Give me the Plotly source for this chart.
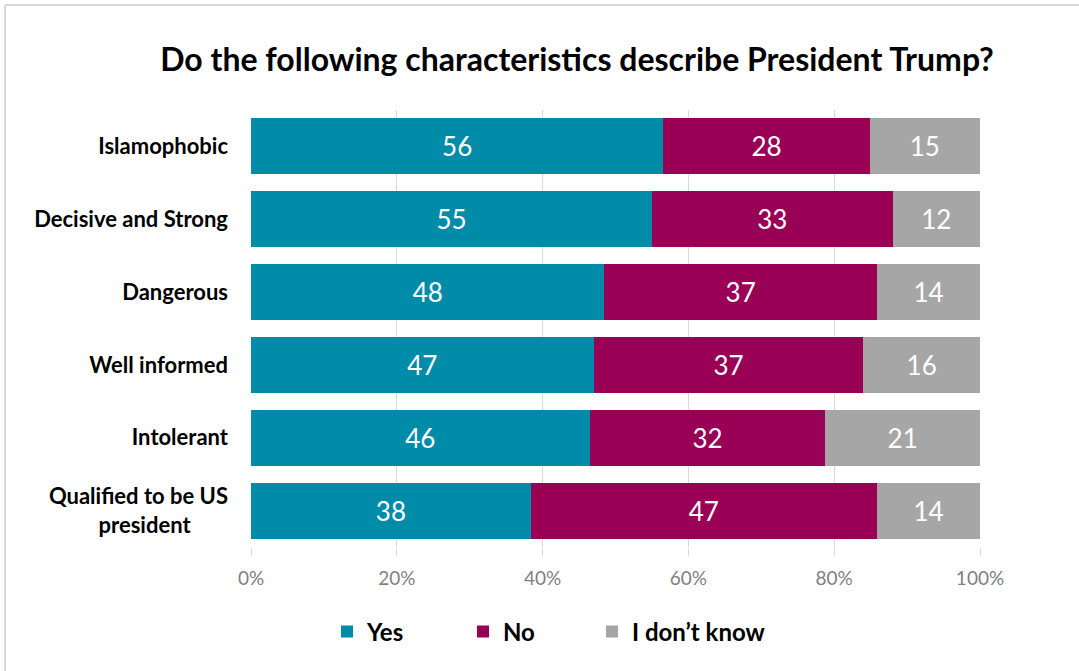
import plotly.graph_objects as go

categories = ["Islamophobic", "Decisive and Strong", "Dangerous", "Well informed",
              "Intolerant", "Qualified to be US<br>president"]
yes_vals = [56, 55, 48, 47, 46, 38]
no_vals = [28, 33, 37, 37, 32, 47]
dk_vals = [15, 12, 14, 16, 21, 14]
series_names = ["Yes", "No", "I don\u2019t know"]
colors = ["#008BA8", "#990055", "#A6A6A6"]
tick_vals = [0, 20, 40, 60, 80, 100]
tick_text = ["0%", "20%", "40%", "60%", "80%", "100%"]

FONT = "Lato, 'Open Sans', sans-serif"

L, R, T, B = 251, 99, 110, 124
W, H = 1079, 671
pw, ph = W - L - R, H - T - B

def px(x):
    return (x - L) / pw

def py(y):
    return (H - B - y) / ph

legend_ids = ["legend", "legend2", "legend3"]
legend_x = [327, 463, 592]

# category labels as shown (second line of the last one centred under the first)
cat_labels = []
for c in categories:
    lines = c.split("<br>")
    if len(lines) > 1:
        lines[1] = lines[1] + "\u00a0" * 7
    cat_labels.append("<br>".join("<b>" + ln + "</b>" for ln in lines))

fig = go.Figure()
for name, vals, col, lid in zip(series_names, [yes_vals, no_vals, dk_vals], colors, legend_ids):
    fig.add_trace(go.Bar(
        y=categories, x=vals, name="<b>" + name + "</b>", orientation="h",
        marker=dict(color=col, line=dict(width=0)),
        text=[str(v) for v in vals], textposition="inside",
        insidetextanchor="middle", textangle=0,
        textfont=dict(color="white", size=26, family=FONT),
        hoverinfo="skip", legend=lid,
    ))

leg_common = dict(orientation="h", xanchor="left", y=py(632), yanchor="middle",
                  font=dict(size=24, color="black", family=FONT),
                  bgcolor="rgba(0,0,0,0)", itemclick=False, itemdoubleclick=False)

fig.update_layout(
    width=W, height=H,
    barmode="stack", barnorm="percent", bargap=0.23,
    margin=dict(l=L, r=R, t=T, b=B),
    paper_bgcolor="white", plot_bgcolor="white",
    title=dict(text="<b>Do the following characteristics describe President Trump?</b>",
               x=px(577), xref="paper", xanchor="center", y=1 - 60 / H, yanchor="middle",
               font=dict(size=32, color="black", family=FONT)),
    font=dict(family=FONT),
    xaxis=dict(range=[0, 100], tickvals=tick_vals, ticktext=tick_text,
               showgrid=True, gridcolor="#D9D9D9", gridwidth=1,
               zeroline=False, showline=False,
               ticks="outside", ticklen=8, tickcolor="#D9D9D9",
               ticklabelstandoff=6,
               tickfont=dict(size=19, color="#7F7F7F", family=FONT)),
    yaxis=dict(autorange="reversed", showgrid=False, zeroline=False,
               showline=False, ticks="", ticklabelstandoff=22,
               tickvals=categories, ticktext=cat_labels,
               tickfont=dict(size=22, color="black", family=FONT)),
    legend=dict(x=px(legend_x[0]), **leg_common),
    legend2=dict(x=px(legend_x[1]), **leg_common),
    legend3=dict(x=px(legend_x[2]), **leg_common),
    showlegend=True,
)

border = "#D9D9D9"
fig.add_shape(type="line", xref="paper", yref="paper",
              x0=px(5), x1=px(5), y0=py(H + 5), y1=py(5),
              line=dict(color=border, width=2))
fig.add_shape(type="line", xref="paper", yref="paper",
              x0=px(5), x1=px(W + 5), y0=py(5), y1=py(5),
              line=dict(color=border, width=2))

fig.write_html("out.html", config={"displayModeBar": False},
               post_script="document.body.style.margin='0';")
